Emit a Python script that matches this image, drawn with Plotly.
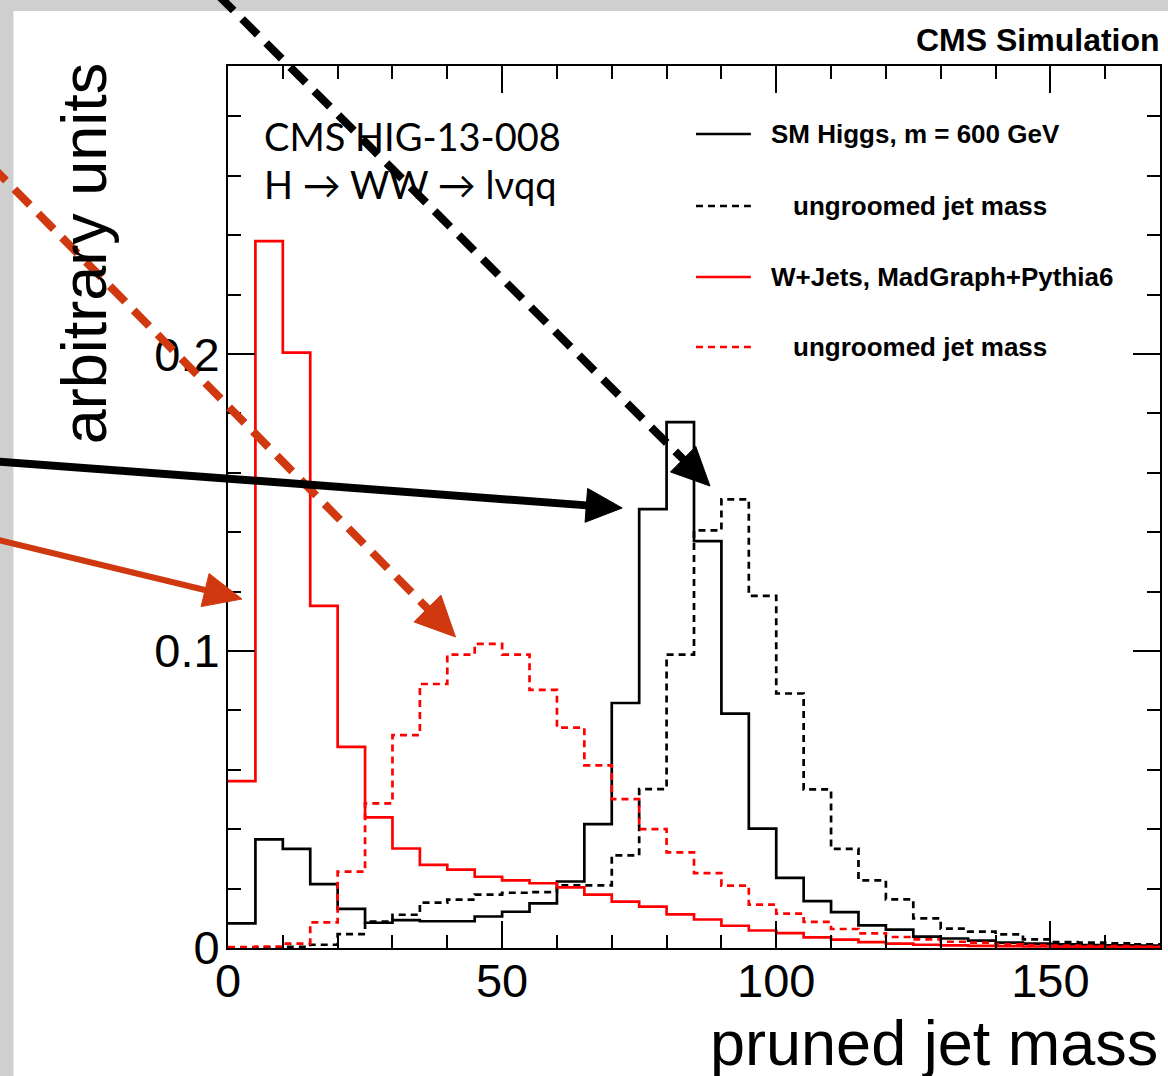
import plotly.graph_objects as go
import math

# ---------------- data ----------------
bin_width = 5
mass_edges = list(range(0, 171, bin_width))  # 0 ... 170 GeV

higgs_pruned = [0.0083, 0.0366, 0.0334, 0.0215, 0.0132, 0.0085, 0.0094, 0.0090,
                0.0090, 0.0106, 0.0122, 0.0150, 0.0224, 0.0417, 0.0825, 0.1478,
                0.1771, 0.1370, 0.0789, 0.0402, 0.0236, 0.0158, 0.0121, 0.0076,
                0.0062, 0.0038, 0.0032, 0.0025, 0.0018, 0.0015, 0.0012, 0.0010,
                0.0009, 0.0008]
higgs_ungroomed = [0.0000, 0.0001, 0.0004, 0.0011, 0.0047, 0.0089, 0.0112, 0.0153,
                   0.0163, 0.0180, 0.0186, 0.0188, 0.0211, 0.0211, 0.0312, 0.0535,
                   0.0988, 0.1406, 0.1511, 0.1186, 0.0857, 0.0534, 0.0334, 0.0228,
                   0.0164, 0.0100, 0.0065, 0.0055, 0.0046, 0.0029, 0.0020, 0.0018,
                   0.0016, 0.0012]
wjets_pruned = [0.0562, 0.2380, 0.2005, 0.1152, 0.0677, 0.0440, 0.0335, 0.0280,
                0.0264, 0.0240, 0.0228, 0.0218, 0.0204, 0.0180, 0.0156, 0.0139,
                0.0113, 0.0096, 0.0075, 0.0059, 0.0050, 0.0036, 0.0028, 0.0020,
                0.0015, 0.0011, 0.0009, 0.0007, 0.0006, 0.0005, 0.0004, 0.0004,
                0.0003, 0.0003]
wjets_ungroomed = [0.0003, 0.0005, 0.0015, 0.0086, 0.0257, 0.0487, 0.0717, 0.0889,
                   0.0988, 0.1024, 0.0988, 0.0869, 0.0742, 0.0615, 0.0501, 0.0400,
                   0.0322, 0.0252, 0.0210, 0.0146, 0.0116, 0.0088, 0.0064, 0.0049,
                   0.0037, 0.0029, 0.0021, 0.0018, 0.0012, 0.0010, 0.0008, 0.0007,
                   0.0006, 0.0005]

legend_labels = ["SM Higgs, m = 600 GeV", "ungroomed jet mass",
                 "W+Jets, MadGraph+Pythia6", "ungroomed jet mass"]
x_title = "pruned jet mass"
y_title = "arbitrary units"
x_range = [0, 170]
y_range = [0, 0.297]

# ---------------- geometry helpers (figure pixels -> paper) ----------------
W, H = 1168, 1076
ML, MR, MT, MB = 228, 6, 66, 128
PW, PH = W - ML - MR, H - MT - MB


def px(x):
    return (x - ML) / PW


def py(y):
    return (H - MB - y) / PH


RED = "#ff0000"
ARROW_RED = "#d0380f"
FONT = "Liberation Sans"
HIST_DASH = "7px,5px"

fig = go.Figure()

series = [
    (higgs_pruned, "black", "solid"),
    (higgs_ungroomed, "black", HIST_DASH),
    (wjets_ungroomed, RED, HIST_DASH),
    (wjets_pruned, RED, "solid"),
]
for vals, col, dash in series:
    fig.add_trace(go.Scatter(
        x=mass_edges, y=vals + [vals[-1]], mode="lines",
        line=dict(color=col, width=2.7, dash=dash, shape="hv"),
        hoverinfo="skip"))

shapes = []
# white canvas over a grey backdrop
shapes.append(dict(type="rect", xref="paper", yref="paper", layer="below",
                   x0=px(13), x1=px(W + 5), y0=py(H + 5), y1=py(11),
                   fillcolor="white", line=dict(width=0)))

# legend samples
leg_y = [134, 206, 277, 347]
leg_style = [("black", "solid"), ("black", HIST_DASH), (RED, "solid"), (RED, HIST_DASH)]
for yy, (col, dash) in zip(leg_y, leg_style):
    shapes.append(dict(type="line", xref="paper", yref="paper",
                       x0=px(697), x1=px(752), y0=py(yy), y1=py(yy),
                       line=dict(color=col, width=2.7, dash=dash)))


def arrow(start, tip, col, width, dash, head_len, head_half):
    sx, sy = start
    tx, ty = tip
    L = math.hypot(tx - sx, ty - sy)
    ux, uy = (tx - sx) / L, (ty - sy) / L
    bx, by = tx - ux * head_len, ty - uy * head_len
    nx, ny = -uy, ux
    out = [dict(type="line", xref="paper", yref="paper", layer="above",
                x0=px(sx), y0=py(sy), x1=px(bx + ux * 4), y1=py(by + uy * 4),
                line=dict(color=col, width=width, dash=dash))]
    p1 = (bx + nx * head_half, by + ny * head_half)
    p2 = (bx - nx * head_half, by - ny * head_half)
    path = "M {} {} L {} {} L {} {} Z".format(px(tx), py(ty), px(p1[0]), py(p1[1]),
                                              px(p2[0]), py(p2[1]))
    out.append(dict(type="path", xref="paper", yref="paper", layer="above",
                    path=path, fillcolor=col, line=dict(color=col, width=1)))
    return out


shapes += arrow((218, -5), (711, 486), "black", 8, "22px,12px", 38, 18)
shapes += arrow((-10, 165), (456, 637), ARROW_RED, 8, "22px,12px", 40, 19)
shapes += arrow((-10, 461), (623, 508), "black", 8, "solid", 36, 17)
shapes += arrow((-10, 538), (242, 599), ARROW_RED, 6, "solid", 38, 17)

annotations = []
annotations.append(dict(text="CMS Simulation", xref="paper", yref="paper",
                        x=px(1164), y=py(40), xanchor="right", yanchor="middle",
                        showarrow=False, font=dict(family=FONT, size=32, color="black",
                                                   weight="bold")))
annotations.append(dict(text="CMS HIG-13-008", xref="paper", yref="paper",
                        x=px(262), y=py(136), xanchor="left", yanchor="middle",
                        showarrow=False, font=dict(family="Lato", size=38, color="black")))
annotations.append(dict(text="H \u2192 WW \u2192 l\u03bdqq", xref="paper", yref="paper",
                        x=px(262), y=py(184), xanchor="left", yanchor="middle",
                        showarrow=False, font=dict(family="Lato", size=38, color="black")))
leg_x = [770, 792, 770, 792]
for lab, xx, yy in zip(legend_labels, leg_x, leg_y):
    annotations.append(dict(text=lab, xref="paper", yref="paper",
                            x=px(xx), y=py(yy), xanchor="left", yanchor="middle",
                            showarrow=False,
                            font=dict(family=FONT, size=26, color="black", weight="bold")))
annotations.append(dict(text=x_title, xref="paper", yref="paper",
                        x=px(1162), y=py(1043), xanchor="right", yanchor="middle",
                        showarrow=False, font=dict(family=FONT, size=63, color="black")))
annotations.append(dict(text=y_title, xref="paper", yref="paper", textangle=-90,
                        x=px(84), y=py(60), xanchor="center", yanchor="top",
                        showarrow=False, font=dict(family=FONT, size=63, color="black")))

axis_common = dict(showline=True, linecolor="black", linewidth=2, mirror="ticks",
                   ticks="inside", ticklen=27, tickwidth=1.5, tickcolor="black",
                   showgrid=False, zeroline=False,
                   tickfont=dict(family=FONT, size=47, color="black"))

fig.update_xaxes(range=x_range, tick0=0, dtick=50, ticklabelstandoff=-9,
                 minor=dict(dtick=10, ticklen=13, ticks="inside", tickcolor="black",
                            tickwidth=1.5, showgrid=False),
                 **axis_common)
fig.update_yaxes(range=y_range, tick0=0, dtick=0.1, ticklabelstandoff=-3,
                 minor=dict(dtick=0.02, ticklen=13, ticks="inside", tickcolor="black",
                            tickwidth=1.5, showgrid=False),
                 **axis_common)

fig.update_layout(width=W, height=H, margin=dict(l=ML, r=MR, t=MT, b=MB),
                  paper_bgcolor="#cfcfcf", plot_bgcolor="white", showlegend=False,
                  shapes=shapes, annotations=annotations,
                  font=dict(family=FONT, color="black"))

fig.write_html("out.html")
